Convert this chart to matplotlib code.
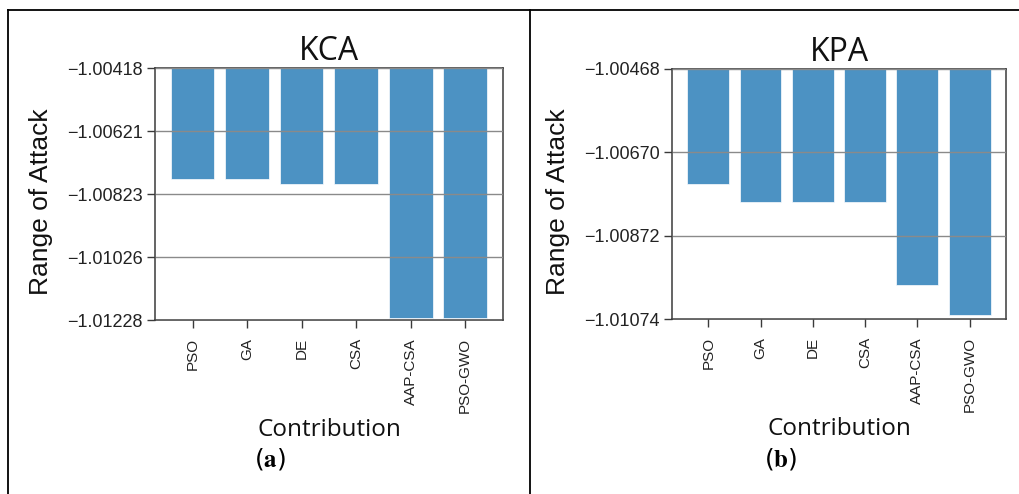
import matplotlib
matplotlib.use("Agg")
import matplotlib.pyplot as plt
from matplotlib.lines import Line2D
import numpy as np

# Data
methods = ['PSO', 'GA', 'DE', 'CSA', 'AAP-CSA', 'PSO-GWO']

kca_values = [-1.00773, -1.00773, -1.00791, -1.00791, -1.01221, -1.01221]
kca_ticks = [-1.00418, -1.00621, -1.00823, -1.01026, -1.01228]

kpa_values = [-1.00748, -1.00790, -1.00790, -1.00790, -1.00991, -1.01065]
kpa_ticks = [-1.00468, -1.00670, -1.00872, -1.01074]

bar_color = '#1f77b4'
text_col = '#222222'

plt.rcParams['mathtext.fontset'] = 'stix'

fig = plt.figure(figsize=(10.2, 4.94), dpi=100)


def draw_panel(ax, values, ticks, title, ylab_x):
    x = np.arange(len(methods))
    ax.bar(x, values, width=0.8, color=bar_color, alpha=0.8,
           edgecolor='white', linewidth=0.6, zorder=1)
    ax.set_ylim(ticks[-1], ticks[0])
    ax.set_yticks(ticks)
    ax.set_yticklabels([f'\u2212{abs(t):.5f}' for t in ticks],
                       fontsize=13, family='Liberation Sans', color=text_col)
    ax.set_xticks(x)
    ax.set_xticklabels(methods, rotation=90, fontsize=11,
                       family='Liberation Sans', color=text_col)
    ax.grid(axis='y', color='#8a8a8a', linewidth=1.0, zorder=3)
    ax.set_axisbelow(False)
    for sp in ax.spines.values():
        sp.set_color('#3a3a3a')
        sp.set_linewidth(1.1)
    ax.tick_params(axis='y', length=6, width=1, color='#3a3a3a', pad=3)
    ax.tick_params(axis='x', length=6, width=1, color='#3a3a3a', pad=7)
    ax.set_title(title, fontsize=23, family='Open Sans', color='#111111', pad=1)
    ax.set_xlabel('Contribution', fontsize=17.5, family='Open Sans',
                  color='#111111')
    ax.xaxis.set_label_coords(0.5, -0.39)
    ax.set_ylabel('Range of Attack', fontsize=19, family='Liberation Sans',
                  color='#111111')
    ax.yaxis.set_label_coords(ylab_x, 0.47)
    return ax


ax1 = fig.add_axes([0.152, 0.352, 0.341, 0.510])
draw_panel(ax1, kca_values, kca_ticks, 'KCA', -0.293)

ax2 = fig.add_axes([0.659, 0.354, 0.327, 0.507])
draw_panel(ax2, kpa_values, kpa_ticks, 'KPA', -0.305)

# Sub-figure captions
fig.text(0.265, 0.071, r'($\mathbf{a}$)', fontsize=18, ha='center', va='center')
fig.text(0.765, 0.071, r'($\mathbf{b}$)', fontsize=18, ha='center', va='center')

# Table-like frame around the panels
top_y = 1 - 10.5 / 494
fig.add_artist(Line2D([0.008, 1.0], [top_y, top_y], color='black', linewidth=1.3))
fig.add_artist(Line2D([0.008, 0.008], [0.0, top_y], color='black', linewidth=1.3))
fig.add_artist(Line2D([0.5196, 0.5196], [0.0, top_y], color='black', linewidth=1.3))

fig.savefig('out.png', dpi=100, facecolor='white')
